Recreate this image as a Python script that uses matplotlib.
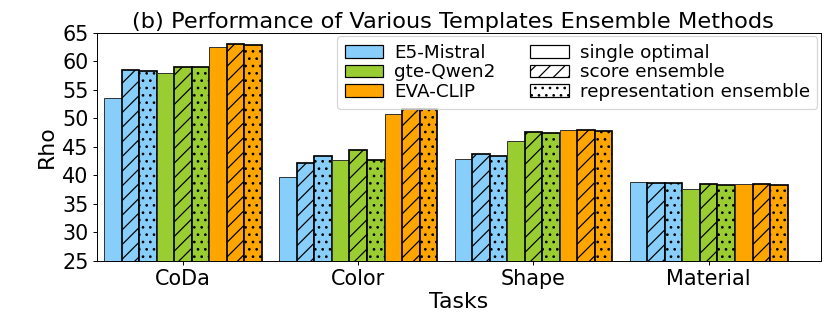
import numpy as np
from matplotlib import pyplot as plt
from matplotlib.patches import Patch

tasks = ['CoDa', 'Color', 'Shape', 'Material']
models = ['E5-Mistral', 'gte-Qwen2', 'EVA-CLIP']
methods = ['single optimal', 'score ensemble', 'representation ensemble']

# rho per task, one list per model / method
e5_single = [53.6, 39.7, 42.8, 38.75]
e5_score = [58.4, 42.2, 43.7, 38.6]
e5_repr = [58.2, 43.3, 43.4, 38.6]
gte_single = [58.0, 42.6, 46.0, 37.6]
gte_score = [59.0, 44.5, 47.5, 38.4]
gte_repr = [59.0, 42.6, 47.4, 38.3]
eva_single = [62.4, 50.7, 48.0, 38.5]
eva_score = [63.0, 51.6, 47.9, 38.5]
eva_repr = [62.9, 51.6, 47.8, 38.2]

series = [e5_single, e5_score, e5_repr,
          gte_single, gte_score, gte_repr,
          eva_single, eva_score, eva_repr]

colors = ['lightskyblue', 'yellowgreen', 'orange']
hatches = ['', '//', '..']

fig, ax = plt.subplots(figsize=(830 / 88, 326 / 88))
fig.subplots_adjust(left=0.117, right=0.989, top=0.90, bottom=0.20)

x = np.arange(len(tasks))
w = 0.1
for i, vals in enumerate(series):
    m = i // 3
    k = i % 3
    if k == 0:
        ax.bar(x + (i - 4) * w, vals, w, color=colors[m], edgecolor='#333333', linewidth=0.8)
    else:
        ax.bar(x + (i - 4) * w, vals, w, color=colors[m], edgecolor='black',
               linewidth=1.4, hatch=hatches[k])

ax.set_ylim(25, 65)
ax.set_yticks(np.arange(25, 66, 5))
ax.set_xlim(-0.49, 3.64)
ax.set_xticks(x)
ax.set_xticklabels(tasks)
ax.tick_params(labelsize=17)
ax.set_ylabel('Rho', fontsize=18)
ax.set_xlabel('Tasks', fontsize=18, labelpad=2)
ax.set_title('(b) Performance of Various Templates Ensemble Methods', fontsize=18.4, pad=4, x=0.491)

handles = [Patch(facecolor=c, edgecolor='black', label=n) for c, n in zip(colors, models)]
handles += [Patch(facecolor='white', edgecolor='black', hatch=h, label=n) for h, n in zip(hatches, methods)]
ax.legend(handles=handles, ncol=2, loc='upper right', fontsize=15,
          handlelength=2.1, handletextpad=0.6, columnspacing=1.9,
          labelspacing=0.1, borderaxespad=0.2, borderpad=0.4)

plt.savefig('out.png', dpi=88)
